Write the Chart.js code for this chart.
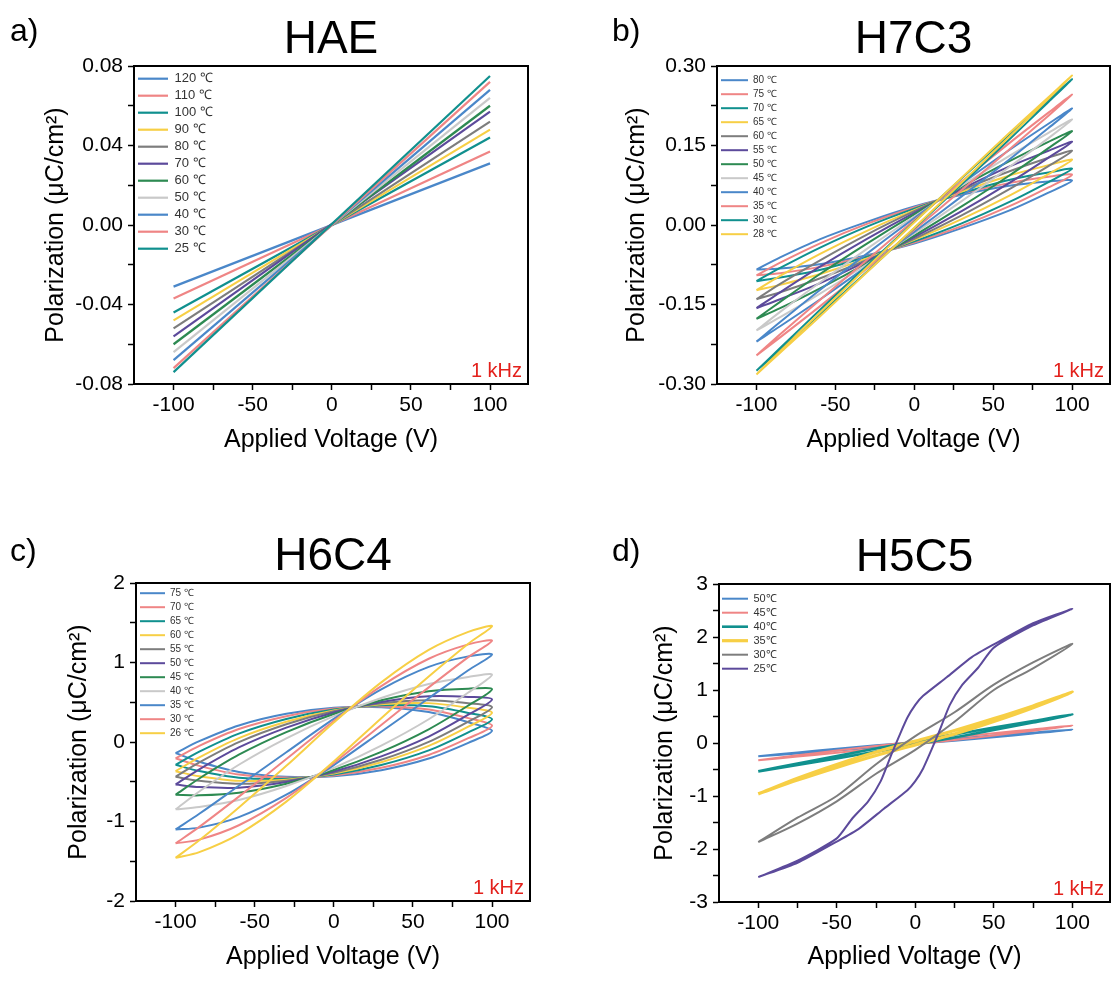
<!DOCTYPE html>
<html>
<head>
<meta charset="utf-8">
<script src="https://cdn.jsdelivr.net/npm/chart.js@4.4.0/dist/chart.umd.min.js"></script>
<style>
  body { margin: 0; background: #fff; width: 1112px; height: 983px; position: relative; overflow: hidden;
         font-family: "Liberation Sans", Arial, sans-serif; }
  .panel { position: absolute; }
  .tag { position: absolute; font-size: 32px; line-height: 1; color: #000; }
</style>
</head>
<body>
<div class="panel" style="left:0;top:0"><canvas id="ca" width="556" height="459"></canvas></div>
<div class="panel" style="left:556px;top:0"><canvas id="cb" width="556" height="459"></canvas></div>
<div class="panel" style="left:0;top:490px"><canvas id="cc" width="556" height="483"></canvas></div>
<div class="panel" style="left:556px;top:490px"><canvas id="cd" width="556" height="483"></canvas></div>
<div class="tag" style="left:10px;top:14px">a)</div>
<div class="tag" style="left:612px;top:14px">b)</div>
<div class="tag" style="left:10px;top:534px">c)</div>
<div class="tag" style="left:612px;top:534px">d)</div>
<script>
// shared axes
const xTicks = [-100, -75, -50, -25, 0, 25, 50, 75, 100];
const loopV = [-100, -85, -60, -30, 0, 30, 60, 85, 100, 85, 60, 30, 0, -30, -60, -85, -100];

// a) HAE - almost linear
const aLabels = ['120 ℃', '110 ℃', '100 ℃', '90 ℃', '80 ℃', '70 ℃', '60 ℃', '50 ℃', '40 ℃', '30 ℃', '25 ℃'];
const aV = [-100, 100];
const aMin = [-0.031, -0.037, -0.044, -0.048, -0.052, -0.056, -0.060, -0.064, -0.068, -0.072, -0.074];
const aMax = [0.031, 0.037, 0.044, 0.048, 0.052, 0.057, 0.060, 0.064, 0.068, 0.072, 0.075];
const aYTicks = [-0.08, -0.06, -0.04, -0.02, 0, 0.02, 0.04, 0.06, 0.08];

// b) H7C3 - loops, P along loopV
const bLabels = ['80 ℃', '75 ℃', '70 ℃', '65 ℃', '60 ℃', '55 ℃', '50 ℃', '45 ℃', '40 ℃', '35 ℃', '30 ℃', '28 ℃'];
const bLoops = [
  [-.084, -.082, -.074, -.057, -.035, -.006, .027, .061, .084, .082, .074, .057, .035, .006, -.027, -.061, -.084],
  [-.095, -.091, -.079, -.059, -.033, -.002, .035, .071, .095, .091, .079, .059, .033, .002, -.035, -.071, -.095],
  [-.106, -.099, -.085, -.060, -.031, .003, .043, .081, .106, .099, .085, .060, .031, -.003, -.043, -.081, -.106],
  [-.123, -.113, -.093, -.063, -.028, .011, .055, .096, .123, .113, .093, .063, .028, -.011, -.055, -.096, -.123],
  [-.140, -.127, -.101, -.066, -.026, .018, .067, .111, .140, .127, .101, .066, .026, -.018, -.067, -.111, -.140],
  [-.157, -.140, -.110, -.068, -.023, .026, .079, .127, .157, .140, .110, .068, .023, -.026, -.079, -.127, -.157],
  [-.177, -.157, -.120, -.072, -.020, .035, .093, .145, .177, .157, .120, .072, .020, -.035, -.093, -.145, -.177],
  [-.199, -.174, -.130, -.074, -.016, .045, .109, .164, .199, .174, .130, .074, .016, -.045, -.109, -.164, -.199],
  [-.220, -.191, -.141, -.078, -.013, .054, .123, .183, .220, .191, .141, .078, .013, -.054, -.123, -.183, -.220],
  [-.246, -.212, -.154, -.082, -.009, .066, .142, .206, .246, .212, .154, .082, .009, -.066, -.142, -.206, -.246],
  [-.275, -.236, -.169, -.088, -.006, .077, .161, .232, .275, .236, .169, .088, .006, -.077, -.161, -.232, -.275],
  [-.282, -.241, -.173, -.089, -.005, .080, .166, .238, .282, .241, .173, .089, .005, -.080, -.166, -.238, -.282]
];
const bYTicks = [-0.3, -0.225, -0.15, -0.075, 0, 0.075, 0.15, 0.225, 0.3];

// c) H6C4 - lossy loops
const cLabels = ['75 ℃', '70 ℃', '65 ℃', '60 ℃', '55 ℃', '50 ℃', '45 ℃', '40 ℃', '35 ℃', '30 ℃', '26 ℃'];
const cLoops = [
  [-.14, -.248, -.376, -.438, -.43, -.354, -.208, -.01, .14, .248, .376, .438, .43, .354, .208, .01, -.14],
  [-.205, -.300, -.409, -.448, -.420, -.325, -.163, .048, .205, .300, .409, .448, .420, .325, .163, -.048, -.205],
  [-.287, -.366, -.449, -.461, -.408, -.289, -.105, .122, .287, .366, .449, .461, .408, .289, .105, -.122, -.287],
  [-.367, -.431, -.489, -.474, -.396, -.254, -.049, .193, .367, .431, .489, .474, .396, .254, .049, -.193, -.367],
  [-.438, -.488, -.525, -.486, -.386, -.224, .001, .256, .438, .488, .525, .486, .386, .224, -.001, -.256, -.438],
  [-.535, -.567, -.574, -.503, -.372, -.181, .068, .343, .535, .567, .574, .503, .372, .181, -.068, -.343, -.535],
  [-.665, -.671, -.638, -.524, -.352, -.124, .160, .459, .665, .671, .638, .524, .352, .124, -.160, -.459, -.665],
  [-.847, -.818, -.730, -.554, -.326, -.046, .286, .622, .847, .818, .730, .554, .326, .046, -.286, -.622, -.847],
  [-1.1, -1.077, -.945, -.663, -.29, .129, .551, .903, 1.1, 1.077, .945, .663, .29, -.129, -.551, -.903, -1.1],
  [-1.275, -1.228, -1.047, -.703, -.265, .215, .687, 1.068, 1.275, 1.228, 1.047, .703, .265, -.215, -.687, -1.068, -1.275],
  [-1.457, -1.385, -1.158, -.750, -.245, .300, .824, 1.237, 1.457, 1.385, 1.158, .750, .245, -.300, -.824, -1.237, -1.457]
];
const cYTicks = [-2, -1.5, -1, -0.5, 0, 0.5, 1, 1.5, 2];

// d) H5C5
const dLabels = ['50℃', '45℃', '40℃', '35℃', '30℃', '25℃'];
const dV = [-100, -75, -50, -25, 0, 25, 50, 75, 100, 75, 50, 25, 0, -25, -50, -75, -100];
const dLoops = [
  [-.25, -.198, -.141, -.082, -.02, .044, .109, .178, .25, .198, .141, .082, .02, -.044, -.109, -.178, -.25],
  [-.325, -.256, -.183, -.105, -.025, .057, .143, .231, .325, .256, .183, .105, .025, -.057, -.143, -.231, -.325],
  [-.535, -.416, -.292, -.163, -.03, .105, .244, .386, .535, .416, .292, .163, .03, -.105, -.244, -.386, -.535],
  [-.96, -.70, -.46, -.235, -.035, .169, .404, .664, .96, .70, .46, .235, .035, -.169, -.404, -.664, -.96],
  [-1.87, -1.52, -1.10, -.58, -.13, .40, 1.0, 1.41, 1.87, 1.52, 1.10, .58, .13, -.40, -1.0, -1.41, -1.87]
];
const dPurpleV = [-100, -75, -50, -36, -20, -5, 0, 5, 10, 15, 22, 30, 40, 50, 75, 100,
                  75, 50, 36, 20, 5, 0, -5, -10, -15, -22, -30, -40, -50, -75, -100];
const dPurpleP = [-2.53, -2.26, -1.86, -1.62, -1.24, -0.89, -0.72, -0.48, -0.15, 0.2, 0.72, 1.1, 1.42, 1.80, 2.22, 2.53,
                  2.26, 1.86, 1.62, 1.24, 0.89, 0.72, 0.48, 0.15, -0.2, -0.72, -1.1, -1.42, -1.80, -2.22, -2.53];
const dYTicks = [-3, -2.5, -2, -1.5, -1, -0.5, 0, 0.5, 1, 1.5, 2, 2.5, 3];

const BLUE = '#4a87c9', SALMON = '#ef8585', TEAL = '#10908e', YELLOW = '#f7cf45',
      GRAY = '#7d7d7d', PURPLE = '#5c4a9b', GREEN = '#2d8a52', LGRAY = '#c9c9c9';
const aColors = [BLUE, SALMON, TEAL, YELLOW, GRAY, PURPLE, GREEN, LGRAY, BLUE, SALMON, TEAL];
const bColors = [BLUE, SALMON, TEAL, YELLOW, GRAY, PURPLE, GREEN, LGRAY, BLUE, SALMON, TEAL, YELLOW];
const cColors = [BLUE, SALMON, TEAL, YELLOW, GRAY, PURPLE, GREEN, LGRAY, BLUE, SALMON, YELLOW];
const dColors = [BLUE, SALMON, TEAL, YELLOW, GRAY, PURPLE];
const dWidths = [2, 2, 2.6, 3.2, 2, 2];

Chart.defaults.font.family = '"Liberation Sans", Arial, sans-serif';

const frame = {
  id: 'frame',
  afterDraw(chart) {
    const { ctx, chartArea: c } = chart;
    ctx.save();
    ctx.strokeStyle = '#000';
    ctx.lineWidth = 2;
    ctx.strokeRect(c.left, c.top, c.right - c.left, c.bottom - c.top);
    ctx.fillStyle = '#e3211c';
    ctx.font = '20px "Liberation Sans", Arial, sans-serif';
    ctx.textAlign = 'right';
    ctx.textBaseline = 'alphabetic';
    ctx.fillText('1 kHz', c.right - 6, c.bottom - 7);
    ctx.restore();
  }
};

function makeChart(id, cfg) {
  const n = cfg.sets.length;
  const datasets = cfg.sets.map((s, i) => ({
    label: s.label,
    data: s.xs.map((x, k) => ({ x: x, y: s.ys[k] })),
    borderColor: s.color,
    backgroundColor: s.color,
    borderWidth: s.width,
    pointRadius: 0,
    showLine: true,
    tension: s.tension,
    order: n - i
  }));
  new Chart(document.getElementById(id), {
    type: 'scatter',
    data: { datasets: datasets },
    plugins: [frame],
    options: {
      responsive: false,
      animation: false,
      events: [],
      layout: { padding: cfg.pad },
      plugins: {
        tooltip: { enabled: false },
        title: {
          display: true, text: cfg.title, fullSize: false, color: '#000',
          font: { size: 46, weight: 'normal', lineHeight: 1 },
          padding: { top: cfg.titleTop, bottom: 3 }
        },
        legend: {
          position: 'chartArea', align: 'start',
          // the legend box starts at the canvas top, so an empty title pushes the rows into the plot
          title: { display: true, text: ' ', padding: { top: cfg.legendTop, bottom: 0 }, font: { size: 1 } },
          labels: {
            usePointStyle: true, pointStyle: 'line', pointStyleWidth: cfg.lineLen,
            font: { size: cfg.legendFont }, padding: cfg.legendPad, color: '#333',
            sort: (p, q) => p.datasetIndex - q.datasetIndex
          }
        }
      },
      scales: {
        x: {
          type: 'linear', min: -125, max: 124,
          afterBuildTicks: s => { s.ticks = xTicks.map(v => ({ value: v })); },
          afterFit: s => { s.height = cfg.xH; },
          ticks: { callback: (v, i) => (i % 2 ? '' : String(v)), font: { size: 21 }, color: '#000',
                   padding: 3, maxRotation: 0, autoSkip: false },
          grid: { drawOnChartArea: false, tickLength: 6, tickColor: '#000', tickWidth: 1.5 },
          border: { color: '#000', width: 2 },
          title: { display: true, text: 'Applied Voltage (V)', color: '#000', font: { size: 25 },
                   padding: { top: 4, bottom: cfg.xTitlePad } }
        },
        y: {
          type: 'linear', min: cfg.yTicks[0], max: cfg.yTicks[cfg.yTicks.length - 1],
          afterBuildTicks: s => { s.ticks = cfg.yTicks.map(v => ({ value: v })); },
          afterFit: s => { s.width = cfg.yW; },
          ticks: { callback: (v, i) => (i % 2 ? '' : cfg.yFmt(v)), font: { size: 21 }, color: '#000',
                   padding: 5, autoSkip: false },
          grid: { drawOnChartArea: false, tickLength: 6, tickColor: '#000', tickWidth: 1.5 },
          border: { color: '#000', width: 2 },
          title: { display: true, text: 'Polarization (μC/cm²)', color: '#000', font: { size: 25 },
                   padding: { top: 4, bottom: 4 } }
        }
      }
    }
  });
}

const fix2 = v => v.toFixed(2);
const plain = v => String(v);

makeChart('ca', {
  title: 'HAE', titleTop: 17, pad: { left: 37, right: 28, top: 0, bottom: 0 }, yW: 97, xH: 75, xTitlePad: 4,
  yTicks: aYTicks, yFmt: fix2, legendFont: 13, legendPad: 4, lineLen: 30, legendTop: 67,
  sets: aLabels.map((l, i) => ({ label: l, xs: aV, ys: [aMin[i], aMax[i]], color: aColors[i], width: 2.2, tension: 0 }))
});

makeChart('cb', {
  title: 'H7C3', titleTop: 17, pad: { left: 62, right: 2, top: 0, bottom: 0 }, yW: 99, xH: 75, xTitlePad: 4,
  yTicks: bYTicks, yFmt: fix2, legendFont: 10, legendPad: 4, lineLen: 27, legendTop: 70,
  sets: bLabels.map((l, i) => ({ label: l, xs: loopV, ys: bLoops[i], color: bColors[i], width: 2, tension: 0.3 }))
});

makeChart('cc', {
  title: 'H6C4', titleTop: 44, pad: { left: 60, right: 26, top: 0, bottom: 0 }, yW: 76, xH: 72, xTitlePad: 1,
  yTicks: cYTicks, yFmt: plain, legendFont: 10, legendPad: 4, lineLen: 25, legendTop: 93,
  sets: cLabels.map((l, i) => ({ label: l, xs: loopV, ys: cLoops[i], color: cColors[i], width: 2, tension: 0.3 }))
});

const dSets = dLoops.map((ys, i) => ({ label: dLabels[i], xs: dV, ys: ys, color: dColors[i], width: dWidths[i], tension: 0.3 }));
dSets.push({ label: dLabels[5], xs: dPurpleV, ys: dPurpleP, color: dColors[5], width: dWidths[5], tension: 0.2 });
makeChart('cd', {
  title: 'H5C5', titleTop: 45, pad: { left: 90, right: 2, top: 0, bottom: 0 }, yW: 73, xH: 71, xTitlePad: 1,
  yTicks: dYTicks, yFmt: plain, legendFont: 11, legendPad: 3, lineLen: 26, legendTop: 99,
  sets: dSets
});
</script>
</body>
</html>
